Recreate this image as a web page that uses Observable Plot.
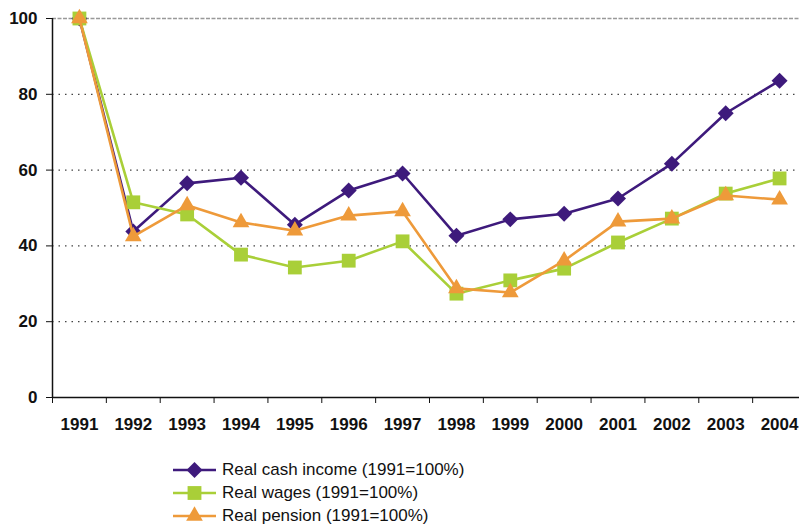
<!DOCTYPE html>
<html>
<head>
<meta charset="utf-8">
<script src="https://cdn.jsdelivr.net/npm/d3@7"></script>
<script src="https://cdn.jsdelivr.net/npm/@observablehq/plot@0.6"></script>
<style>
  body { margin: 0; background: #fff; font-family: "Liberation Sans", Arial, sans-serif; }
  #wrap { position: relative; width: 799px; height: 524px; overflow: hidden; }
  #legend { position: absolute; left: 173px; top: 458px; }
  .row { display: flex; align-items: center; height: 23px; line-height: 20px; font-size: 17px; color: #111; }
  .row svg { margin-right: 6px; }
</style>
</head>
<body>
<div id="wrap">
  <div id="chart"></div>
  <div id="legend"></div>
</div>
<script>
const years = [1991,1992,1993,1994,1995,1996,1997,1998,1999,2000,2001,2002,2003,2004];
const cashIncome = [100,43.8,56.5,58,45.6,54.6,59.1,42.7,47,48.5,52.5,61.7,75,83.6];
const wages = [100,51.5,48.3,37.7,34.3,36.1,41.2,27.4,30.9,34,40.9,47.2,53.8,57.8];
const pension = [100,42.5,50.7,46.2,44,48,49.1,28.8,27.7,36.1,46.4,47.2,53.3,52.2];
const yTicks = [0,20,40,60,80,100];
const seriesNames = ["Real cash income (1991=100%)","Real wages (1991=100%)","Real pension (1991=100%)"];
const colors = ["#3e1a7c","#a9cf38","#ee9a3a"];
const symbols = ["diamond2","square","triangle"];
const radii = [7.2, 7.8, 6.2];

const seriesValues = [cashIncome, wages, pension];
const series = seriesValues.map((vals, i) => years.map((yr, j) => ({year: yr, value: vals[j], s: i})));
const boundaries = years.map(y => y - 0.5);

const marks = [
  Plot.gridY(yTicks.filter(t => t > 0 && t < 100), {stroke: "#444", strokeOpacity: 1, strokeDasharray: "1.5,5", strokeWidth: 1.3}),
  Plot.ruleY([100], {stroke: "#999", strokeDasharray: "4,1.5", strokeWidth: 1.3}),
  Plot.axisY({ticks: yTicks, tickSize: 6, tickPadding: 9, fontSize: 17, fontWeight: "bold", stroke: "#111", color: "#111", label: null}),
  Plot.ruleX([1990.5], {y1: 0, y2: 100, stroke: "#111", strokeWidth: 1.5}),
  Plot.ruleY([0], {stroke: "#111", strokeWidth: 1.5}),
  Plot.axisX({ticks: boundaries, tickSize: 6, tickFormat: () => "", stroke: "#111", label: null}),
  Plot.text(years, {x: d => d, y: 0, dy: 27, text: d => String(d), fontSize: 17, fontWeight: "bold", fill: "#111"})
];
series.forEach((data, i) => {
  marks.push(Plot.line(data, {x: "year", y: "value", stroke: colors[i], strokeWidth: 2.6}));
  marks.push(Plot.dot(data, {x: "year", y: "value", symbol: () => symbols[i], fill: colors[i], r: radii[i], stroke: "none"}));
});

const chart = Plot.plot({
  width: 799,
  height: 440,
  marginTop: 18,
  marginBottom: 43,
  marginLeft: 52,
  marginRight: 0,
  style: {fontFamily: "'Liberation Sans', Arial, sans-serif", background: "#fff", overflow: "visible"},
  x: {domain: [1990.5, 2004.5], range: [52, 806], axis: null},
  y: {domain: [0, 100], range: [397, 18], axis: null},
  symbol: {type: "identity"},
  marks
});
document.getElementById("chart").appendChild(chart);

const legend = document.getElementById("legend");
seriesNames.forEach((name, i) => {
  const row = document.createElement("div");
  row.className = "row";
  const svg = d3.create("svg").attr("width", 43).attr("height", 20);
  svg.append("line").attr("x1", 0).attr("x2", 43).attr("y1", 10).attr("y2", 10)
    .attr("stroke", colors[i]).attr("stroke-width", 2.6);
  const symMap = {diamond2: d3.symbolDiamond2, square: d3.symbolSquare, triangle: d3.symbolTriangle};
  svg.append("path").attr("transform", "translate(21.5,10)")
    .attr("d", d3.symbol(symMap[symbols[i]], Math.PI * radii[i] * radii[i])())
    .attr("fill", colors[i]);
  row.appendChild(svg.node());
  const span = document.createElement("span");
  span.textContent = name;
  row.appendChild(span);
  legend.appendChild(row);
});
</script>
</body>
</html>
